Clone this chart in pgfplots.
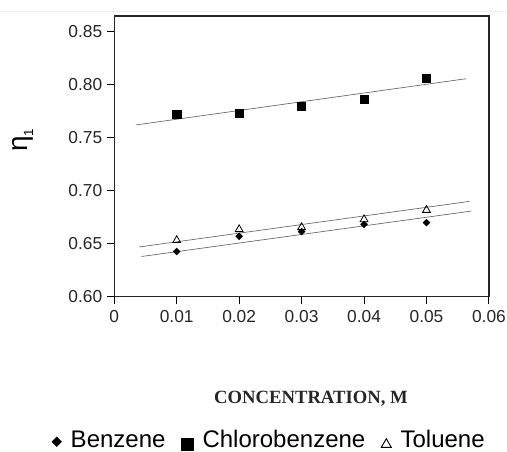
\documentclass[border=0pt]{standalone}
\usepackage{pgfplots}
\pgfplotsset{compat=1.18}
\usepackage{fontspec}
\setmainfont{Liberation Sans}
\newfontfamily\serifbf{Liberation Serif}
\begin{document}
\begin{tikzpicture}
\useasboundingbox (0pt,0pt) rectangle (380.25pt,338.25pt);
\draw[black!7, line width=0.6pt] (0pt,330pt) -- (380.25pt,330pt);
\begin{axis}[
  at={(85.7pt,115.7pt)}, anchor=south west,
  scale only axis, width=281pt, height=210.5pt,
  xmin=0, xmax=0.06, ymin=0.6, ymax=0.865,
  scaled x ticks=false, scaled y ticks=false,
  xtick={0,0.01,0.02,0.03,0.04,0.05,0.06},
  xticklabels={0,0.01,0.02,0.03,0.04,0.05,0.06},
  ytick={0.60,0.65,0.70,0.75,0.80,0.85},
  yticklabels={0.60,0.65,0.70,0.75,0.80,0.85},
  tick align=outside, xtick pos=bottom, ytick pos=left,
  major tick length=5.5pt,
  tick style={black, line width=0.7pt},
  axis line style={line width=1.1pt, black!85},
  tick label style={font=\fontsize{13}{15}\selectfont, text=black!85},
  xticklabel style={yshift=-1pt},
  ylabel={\fontsize{21}{23}\selectfont η\raisebox{-0.35ex}{\fontsize{10}{10}\selectfont 1}},
  ylabel style={at={(axis description cs:-0.243,0.558)}, anchor=center},
  xlabel={CONCENTRATION, M},
  xlabel style={at={(axis description cs:0.525,-0.363)}, anchor=center, font=\serifbf\bfseries\fontsize{14}{16}\selectfont, text=black!85},
  legend style={at={(axis description cs:0.413,-0.51)}, anchor=center, draw=none, fill=none,
    font=\fontsize{18}{20}\selectfont,
    /tikz/every even column/.append style={column sep=11pt},
    /tikz/every odd column/.append style={column sep=6pt},
    nodes={inner sep=1pt}},
  legend columns=3,
  legend cell align=left,
]
% regression lines
\addplot[forget plot, draw=black!60, line width=0.5pt] coordinates {(0.00347,0.7622) (0.0563,0.8058)};
\addplot[forget plot, draw=black!60, line width=0.5pt] coordinates {(0.0040,0.6470) (0.05685,0.6900)};
\addplot[forget plot, draw=black!60, line width=0.5pt] coordinates {(0.00438,0.6380) (0.0572,0.6809)};
% data
\addplot[only marks, mark=square*, mark size=1.8pt, mark options={rotate=45, fill=black, draw=black},
  legend image code/.code={\draw[mark=square*, mark size=2.5pt, mark options={rotate=45,fill=black}] plot coordinates {(0.2cm,-0.05cm)};}]
  coordinates {(0.01,0.6427) (0.02,0.6571) (0.03,0.6615) (0.04,0.6684) (0.05,0.6700)};
\addlegendentry{Benzene}
\addplot[only marks, mark=square*, mark size=3.1pt, mark options={fill=black, draw=black},
  legend image code/.code={\draw[mark=square*, mark size=4.4pt, mark options={fill=black}] plot coordinates {(0.35cm,-0.12cm)};}]
  coordinates {(0.01,0.7722) (0.02,0.7732) (0.03,0.7797) (0.04,0.7866) (0.05,0.8064)};
\addlegendentry{Chlorobenzene}
\addplot[only marks, mark=triangle, mark size=3.4pt, mark options={fill=white, draw=black, line width=0.6pt},
  legend image code/.code={\draw[mark=triangle, mark size=4.3pt, mark options={fill=white, line width=0.7pt}] plot coordinates {(0.35cm,-0.12cm)};}]
  coordinates {(0.01,0.6533) (0.02,0.6636) (0.03,0.6655) (0.04,0.6730) (0.05,0.6818)};
\addlegendentry{Toluene}
\end{axis}
\end{tikzpicture}
\end{document}
